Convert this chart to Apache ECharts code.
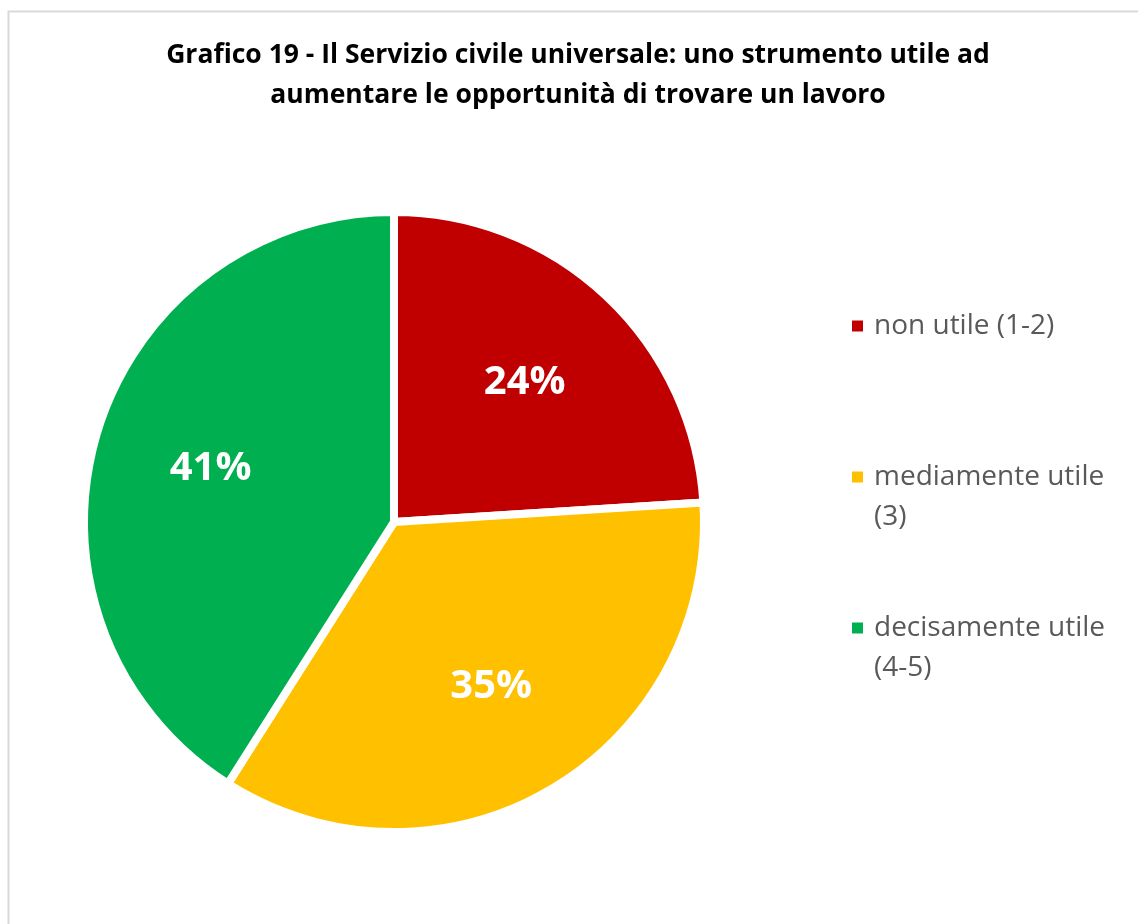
<!DOCTYPE html>
<html>
<head>
<meta charset="utf-8">
<script src="https://cdn.jsdelivr.net/npm/echarts@6/dist/echarts.min.js"></script>
<style>html,body{margin:0;padding:0;background:#fff}#c{width:1138px;height:924px}</style>
</head>
<body>
<div id="c"></div>
<script>
const titleText = 'Grafico 19 - Il Servizio civile universale: uno strumento utile ad\naumentare le opportunità di trovare un lavoro';
const categories = ['non utile (1-2)', 'mediamente utile (3)', 'decisamente utile (4-5)'];
const legendLabels = ['non utile (1-2)', '\nmediamente utile\n(3)', '\ndecisamente utile\n(4-5)'];
const values = [24, 35, 41];
const colors = ['#C00000', '#FFC000', '#00B050'];

const FONT = '"Open Sans", sans-serif';
const chart = echarts.init(document.getElementById('c'));
const data = categories.map((n, i) => ({ name: n, value: values[i], itemStyle: { color: colors[i] } }));
const lh = 40;
const legendTops = [326 - lh / 2, 477 - lh * 1.5, 628 - lh * 1.5];
chart.setOption({
  backgroundColor: '#fff',
  animation: false,
  title: {
    text: titleText,
    left: 578, top: 35, textAlign: 'center', padding: 0,
    textStyle: { fontFamily: FONT, fontWeight: 'bold', fontSize: 26.5, lineHeight: 40, color: '#000' }
  },
  graphic: [{
    type: 'rect', silent: true,
    shape: { x: 8.5, y: 11.5, width: 1300, height: 1100 },
    style: { fill: 'none', stroke: '#d9d9d9', lineWidth: 2 }
  }],
  legend: categories.map((n, i) => ({
    orient: 'vertical', left: 850, top: legendTops[i], padding: 0,
    icon: 'path://M0,0h13v13h-13z', itemWidth: 23, itemHeight: 13, itemGap: 0,
    symbolKeepAspect: true,
    selectedMode: false,
    data: [n],
    formatter: () => legendLabels[i],
    textStyle: { fontFamily: FONT, fontSize: 28, color: '#595959', lineHeight: lh }
  })),
  series: [{
    type: 'pie', center: [394, 522], radius: [0, 310], startAngle: 90, clockwise: true,
    silent: true,
    itemStyle: { borderColor: '#fff', borderWidth: 8 },
    label: { show: false }, labelLine: { show: false },
    data: data
  }, {
    type: 'pie', center: [394, 522], radius: [172, 204], startAngle: 90, clockwise: true,
    silent: true,
    itemStyle: { color: 'transparent', borderWidth: 0 },
    label: {
      show: true, position: 'inside', formatter: p => p.value + '%',
      fontFamily: FONT, fontWeight: 'bold', fontSize: 40, color: '#fff'
    },
    labelLine: { show: false },
    data: categories.map((n, i) => ({ name: n, value: values[i], itemStyle: { color: 'transparent' } }))
  }]
});
</script>
</body>
</html>
